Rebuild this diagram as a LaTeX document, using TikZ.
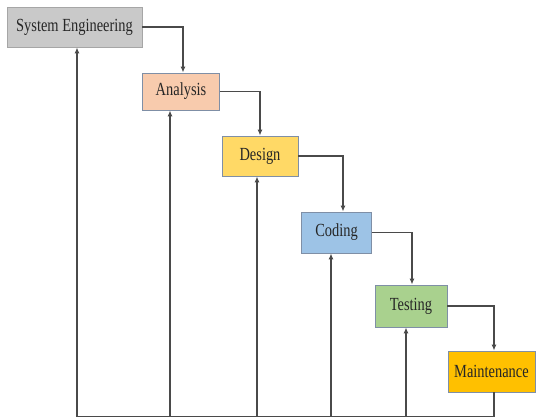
\documentclass[tikz,border=0pt]{standalone}
\usepackage{fontspec}
\setmainfont{Liberation Serif}
\usetikzlibrary{arrows.meta}
\definecolor{segray}{HTML}{C9C9C9}
\definecolor{anfill}{HTML}{F8CBAD}
\definecolor{defill}{HTML}{FFD966}
\definecolor{cofill}{HTML}{9DC3E6}
\definecolor{tefill}{HTML}{A9D18E}
\definecolor{mafill}{HTML}{FFC000}
\definecolor{edgeblue}{HTML}{7F8FA6}
\definecolor{linegray}{HTML}{4A4A4A}
\newcommand{\boxtext}[1]{\scalebox{0.78}[1]{\fontsize{18.5}{21}\selectfont #1}}
\tikzset{
  phase/.style={draw=edgeblue, line width=0.9pt, inner sep=0pt, text=black!85},
  arr/.style={draw=linegray, line width=1.1pt, -{Latex[length=6pt,width=5pt]}},
  ln/.style={draw=linegray, line width=1.1pt}
}
\begin{document}
\begin{tikzpicture}[x=1pt,y=-1pt]
\useasboundingbox (0,0) rectangle (536,418);
\node[phase, draw=gray!70, fill=segray, minimum width=135pt, minimum height=40pt] (se) at (74.5,27) {\boxtext{System Engineering}};
\node[phase, fill=anfill, minimum width=77pt, minimum height=37pt] (an) at (181,91.5) {\boxtext{Analysis}};
\node[phase, fill=defill, minimum width=76pt, minimum height=40pt] (de) at (260,156) {\boxtext{Design}};
\node[phase, fill=cofill, minimum width=70pt, minimum height=41pt] (co) at (336.5,232.5) {\boxtext{Coding}};
\node[phase, fill=tefill, minimum width=72pt, minimum height=42pt] (te) at (411,306) {\boxtext{Testing}};
\node[phase, fill=mafill, minimum width=87pt, minimum height=41pt] (ma) at (491.5,371.5) {\boxtext{Maintenance}};
\coordinate (bl) at (77,416.5);
\coordinate (br) at (494,416.5);
% downward flow
\draw[arr] (se.east) -| ([xshift=2pt]an.north);
\draw[arr] (an.east) -| (de.north);
\draw[arr] (de.east) -| ([xshift=6.5pt]co.north);
\draw[arr] (co.east) -| ([xshift=1pt]te.north);
\draw[arr] (te.east) -| ([xshift=2.5pt]ma.south |- ma.north);
% feedback
\draw[ln] ([xshift=2.5pt]ma.south) -- (br);
\draw[ln] (bl) -- (br);
\draw[arr] (bl) -- ([xshift=2.5pt]se.south);
\draw[arr] (an.south |- bl) ++(-11,0) -- ([xshift=-11pt]an.south);
\draw[arr] ([xshift=-3pt]de.south |- bl) -- ([xshift=-3pt]de.south);
\draw[arr] ([xshift=-5.5pt]co.south |- bl) -- ([xshift=-5.5pt]co.south);
\draw[arr] ([xshift=-5pt]te.south |- bl) -- ([xshift=-5pt]te.south);
\end{tikzpicture}
\end{document}
